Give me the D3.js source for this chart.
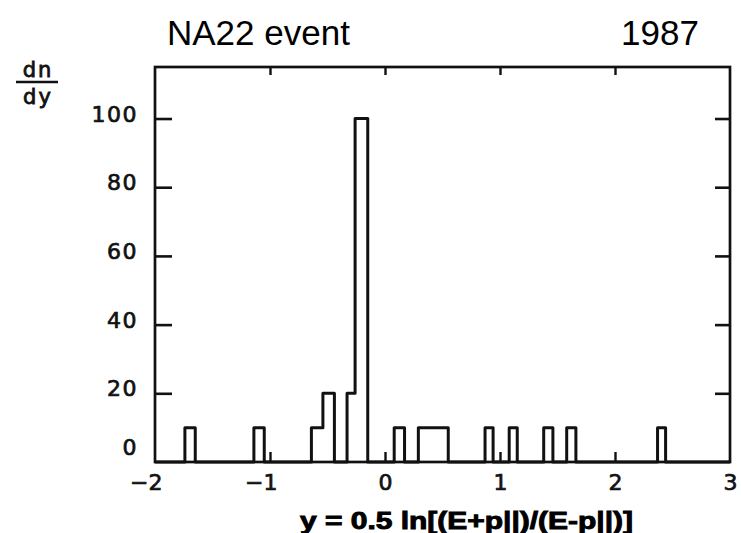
<!DOCTYPE html>
<html>
<head>
<meta charset="utf-8">
<script src="https://cdn.jsdelivr.net/npm/d3@7"></script>
<style>
  html, body { margin: 0; padding: 0; background: #fff; }
  svg { display: block; }
  .tick text { font-family: "DejaVu Sans", sans-serif; font-size: 22px; fill: #111; stroke: #111; stroke-width: 0.7px; }
</style>
</head>
<body>
<svg id="chart" width="741" height="533"></svg>
<script>
// Rapidity distribution of one NA22 event: histogram bins (low edge, high edge, count)
const binLo  = [-1.74, -1.14, -0.64, -0.54, -0.33, -0.26, 0.08, 0.29, 0.87, 1.08, 1.38, 1.58, 2.37];
const binHi  = [-1.65, -1.05, -0.54, -0.44, -0.26, -0.15, 0.17, 0.55, 0.94, 1.15, 1.46, 1.66, 2.44];
const counts = [10, 10, 10, 20, 20, 100, 10, 10, 10, 10, 10, 10, 10];

const xTickValues = [-2, -1, 0, 1, 2, 3];
const yTickValues = [0, 20, 40, 60, 80, 100];
const xDomain = [-2, 3];
const yDomain = [0, 115];

const svg = d3.select("#chart");
const x = d3.scaleLinear().domain(xDomain).range([155, 730]);
const y = d3.scaleLinear().domain(yDomain).range([462, 67]);

const ink = "#111";

// frame
svg.append("rect")
  .attr("x", x(xDomain[0])).attr("y", y(yDomain[1]))
  .attr("width", x(xDomain[1]) - x(xDomain[0]))
  .attr("height", y(yDomain[0]) - y(yDomain[1]))
  .attr("fill", "none").attr("stroke", ink).attr("stroke-width", 2.7);

// left axis: inward ticks with labels
const gl = svg.append("g").attr("transform", `translate(${x(xDomain[0])},0)`)
  .call(d3.axisLeft(y).tickValues(yTickValues).tickFormat(d3.format("d"))
    .tickSizeInner(-17).tickSizeOuter(0).tickPadding(17));
gl.select(".domain").remove();
gl.selectAll(".tick line").attr("stroke", ink).attr("stroke-width", 2.6)
  .filter(d => d === 0).remove();
gl.selectAll(".tick text").attr("letter-spacing", 1.5).attr("dy", d => d === 0 ? "-0.36em" : "0.12em");

// right axis: inward ticks only
const gr = svg.append("g").attr("transform", `translate(${x(xDomain[1])},0)`)
  .call(d3.axisRight(y).tickValues(yTickValues.filter(v => v > 0)).tickSizeInner(-15).tickSizeOuter(0).tickFormat(""));
gr.select(".domain").remove();
gr.selectAll(".tick line").attr("stroke", ink).attr("stroke-width", 2.6);

// bottom axis: inward ticks with labels
const gb = svg.append("g").attr("transform", `translate(0,${y(0)})`)
  .call(d3.axisBottom(x).tickValues(xTickValues).tickFormat(d3.format("d"))
    .tickSizeInner(-10).tickSizeOuter(0).tickPadding(13));
gb.select(".domain").remove();
gb.selectAll(".tick line").attr("stroke", ink).attr("stroke-width", 2.4)
  .filter(d => d === xDomain[0] || d === xDomain[1]).remove();
gb.selectAll(".tick text").attr("text-anchor", "end").attr("x", 7).attr("dy", "0.68em");

// top axis: inward ticks only
const gt = svg.append("g").attr("transform", `translate(0,${y(yDomain[1])})`)
  .call(d3.axisTop(x).tickValues(xTickValues.slice(1, -1)).tickSizeInner(-8).tickSizeOuter(0).tickFormat(""));
gt.select(".domain").remove();
gt.selectAll(".tick line").attr("stroke", ink).attr("stroke-width", 2.4);

// histogram outline
const pts = [[xDomain[0], 0]];
binLo.forEach((lo, i) => {
  pts.push([lo, counts[i]]);
  const next = binLo[i + 1];
  if (next === undefined || Math.abs(next - binHi[i]) > 1e-9) pts.push([binHi[i], 0]);
});
pts.push([xDomain[1], 0]);

svg.append("path")
  .datum(pts)
  .attr("fill", "none")
  .attr("stroke", ink)
  .attr("stroke-width", 3)
  .attr("stroke-linejoin", "round")
  .attr("d", d3.line().x(d => x(d[0])).y(d => y(d[1])).curve(d3.curveStepAfter));

// y axis label: dn/dy fraction
const fr = svg.append("g").attr("font-family", "DejaVu Sans, sans-serif").attr("font-size", 21)
  .attr("fill", ink).attr("stroke", ink).attr("stroke-width", 0.8).attr("text-anchor", "middle");
fr.append("text").attr("x", 38).attr("y", 77).attr("letter-spacing", 2).text("dn");
fr.append("line").attr("x1", 16).attr("x2", 58).attr("y1", 82).attr("y2", 82)
  .attr("stroke", ink).attr("stroke-width", 2.6);
fr.append("text").attr("x", 38).attr("y", 104).attr("letter-spacing", 2).text("dy");

// titles
svg.append("text").attr("x", 167).attr("y", 45)
  .attr("font-family", "Liberation Sans, Arial, sans-serif").attr("font-size", 35)
  .attr("fill", "#000").text("NA22 event");
svg.append("text").attr("x", 621).attr("y", 45)
  .attr("font-family", "Liberation Sans, Arial, sans-serif").attr("font-size", 35)
  .attr("fill", "#000").text("1987");

// x axis label
svg.append("text").attr("x", 300).attr("y", 529)
  .attr("font-family", "Liberation Sans, Arial, sans-serif").attr("font-size", 23)
  .attr("font-weight", "bold").attr("fill", "#000")
  .attr("stroke", "#000").attr("stroke-width", 0.9)
  .attr("textLength", 333).attr("lengthAdjust", "spacingAndGlyphs")
  .text("y = 0.5 ln[(E+p||)/(E-p||)]");
</script>
</body>
</html>
